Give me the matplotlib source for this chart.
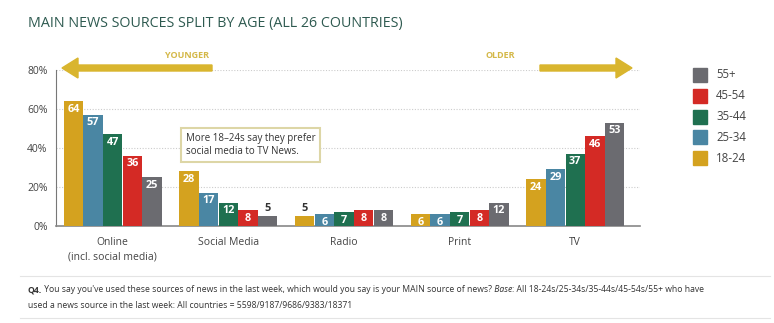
import matplotlib
matplotlib.use("Agg")
import matplotlib.pyplot as plt
import numpy as np
from matplotlib.patches import FancyArrow

plt.rcParams['font.family'] = ['Open Sans', 'DejaVu Sans']

categories = ["Online\n(incl. social media)", "Social Media", "Radio", "Print", "TV"]
age_groups = ["18-24", "25-34", "35-44", "45-54", "55+"]
values = {
    "18-24": [64, 28, 5, 6, 24],
    "25-34": [57, 17, 6, 6, 29],
    "35-44": [47, 12, 7, 7, 37],
    "45-54": [36, 8, 8, 8, 46],
    "55+":   [25, 5, 8, 12, 53],
}
colors = {"18-24": "#d4a21f", "25-34": "#4a86a3", "35-44": "#1f7050",
          "45-54": "#d42a25", "55+": "#6b6b70"}
yticks = [0, 20, 40, 60, 80]
ytick_labels = ["0%", "20%", "40%", "60%", "80%"]

W, H = 774, 323
fig = plt.figure(figsize=(W/100, H/100), dpi=100)

def fx(px): return px / W
def fy(py): return 1 - py / H

ax = fig.add_axes([fx(56), fy(226), fx(640) - fx(56), fy(70) - fy(226)])
x = np.arange(len(categories))
bw = 0.17
for i, g in enumerate(age_groups):
    pos = x + (i - 2) * bw
    ax.bar(pos, values[g], width=bw * 0.98, color=colors[g], zorder=3)
    for p, v in zip(pos, values[g]):
        if v <= 5:
            ax.text(p, v + 1.0, str(v), ha='center', va='bottom', fontsize=7.8,
                    fontweight='bold', color='#333333', zorder=4)
        else:
            ax.text(p, v - 1.3, str(v), ha='center', va='top', fontsize=7.8,
                    fontweight='bold', color='white', zorder=4)

ax.set_xlim(-0.49, 4.56)
ax.set_ylim(0, 80)
ax.set_yticks(yticks)
ax.set_yticklabels(ytick_labels, fontsize=7.5, color='#444444')
ax.set_xticks(x)
ax.set_xticklabels(categories, fontsize=7.5, color='#444444', linespacing=1.4)
ax.tick_params(axis='both', length=0, pad=6)
ax.tick_params(axis='x', pad=8)
for y in [20, 40, 60, 80]:
    ax.axhline(y, color='#cccccc', linestyle=(0, (1, 1.5)), linewidth=0.8, zorder=1)
for s in ['top', 'right']:
    ax.spines[s].set_visible(False)
ax.spines['left'].set_color('#777777')
ax.spines['bottom'].set_color('#888888')
ax.spines['bottom'].set_linewidth(1.2)

# annotation box
fig.text(fx(186), fy(145), "More 18\u201324s say they prefer\nsocial media to TV News.",
         fontsize=7, color='#333333', va='center', ha='left', linespacing=1.3,
         bbox=dict(boxstyle='square,pad=0.5', facecolor='white', edgecolor='#ddd6a6', linewidth=1.5),
         zorder=5)

# arrows
arrow_color = '#d9b52e'
a1 = FancyArrow(fx(212), fy(68), fx(62) - fx(212), 0, width=6/H, head_width=20/H,
                head_length=16/W, length_includes_head=True, color=arrow_color,
                transform=fig.transFigure)
fig.add_artist(a1)
a2 = FancyArrow(fx(540), fy(68), fx(632) - fx(540), 0, width=6/H, head_width=20/H,
                head_length=16/W, length_includes_head=True, color=arrow_color,
                transform=fig.transFigure)
fig.add_artist(a2)
fig.text(fx(187), fy(55), "YOUNGER", fontsize=6.5, fontweight='bold', color='#d4b848',
         ha='center', va='center')
fig.text(fx(500), fy(55), "OLDER", fontsize=6.5, fontweight='bold', color='#d4b848',
         ha='center', va='center')

# title
fig.text(fx(28), fy(24), "MAIN NEWS SOURCES SPLIT BY AGE (ALL 26 COUNTRIES)", fontsize=10.3,
         color='#2e5a50', ha='left', va='center')

# legend
for k, g in enumerate(age_groups[::-1]):
    cy = 75 + k * 20.8
    fig.patches.append(plt.Rectangle((fx(693), fy(cy + 7)), 14/W, 14/H, color=colors[g],
                                     transform=fig.transFigure, figure=fig))
    fig.text(fx(716), fy(cy), g, fontsize=8.3, color='#444444', ha='left', va='center')

# footnote
fig.add_artist(plt.Line2D([fx(20), fx(770)], [fy(276), fy(276)], color='#e4e4e4',
                          linewidth=0.8, transform=fig.transFigure))
fig.add_artist(plt.Line2D([fx(20), fx(770)], [fy(318), fy(318)], color='#e4e4e4',
                          linewidth=0.8, transform=fig.transFigure))
renderer = fig.canvas.get_renderer()
pieces = [("Q4.", 'bold', 'normal'),
          (" You say you've used these sources of news in the last week, which would you say is your MAIN source of news?", 'normal', 'normal'),
          (" Base", 'normal', 'italic'),
          (": All 18-24s/25-34s/35-44s/45-54s/55+ who have", 'normal', 'normal')]
xpos = 28
fs = 6.2
for txt, wt, st in pieces:
    t = fig.text(fx(xpos), fy(290), txt, fontsize=fs, fontweight=wt, fontstyle=st,
                 color='#333333', ha='left', va='center')
    bb = t.get_window_extent(renderer=renderer)
    xpos += bb.width
fig.text(fx(28), fy(305), "used a news source in the last week: All countries = 5598/9187/9686/9383/18371",
         fontsize=fs, color='#333333', ha='left', va='center')

fig.savefig("out.png", dpi=100)
